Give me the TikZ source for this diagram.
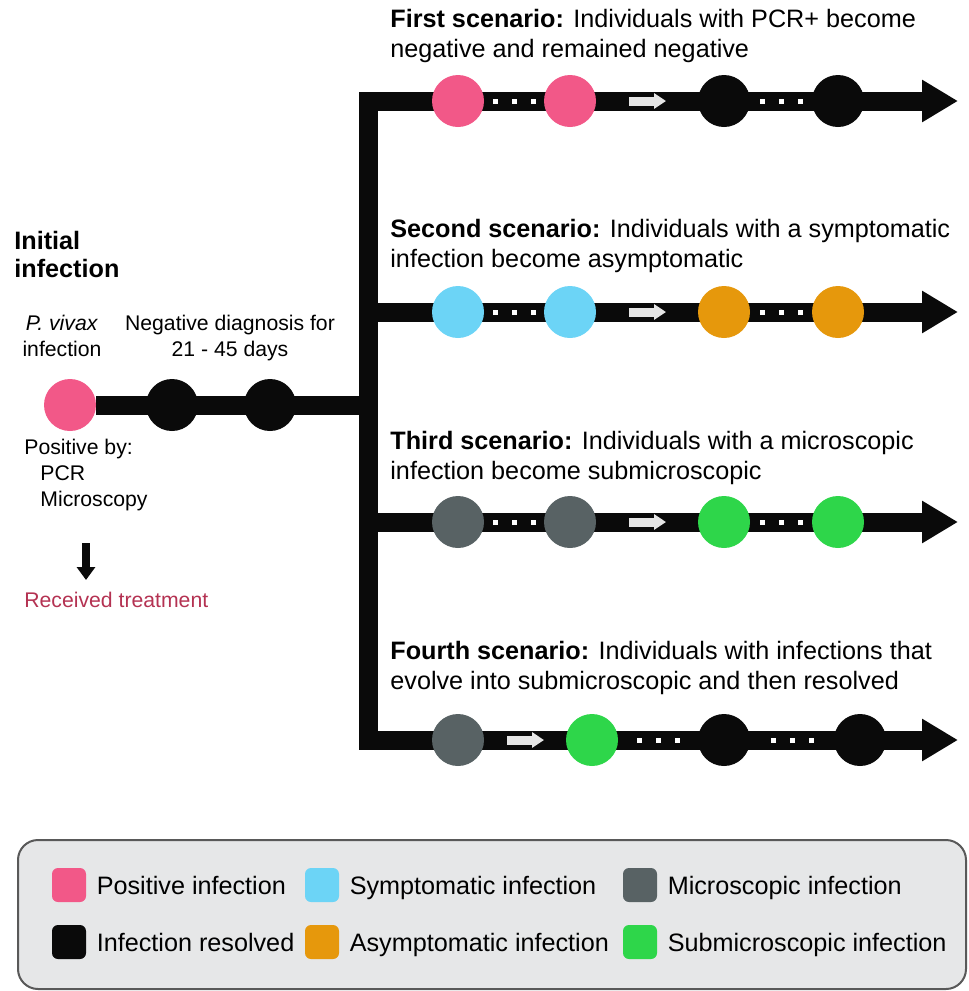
\documentclass[tikz,border=0pt]{standalone}
\usepackage{fontspec}
\setmainfont{Liberation Sans}
\usetikzlibrary{positioning,arrows.meta,calc,backgrounds}

\definecolor{pinkpos}{RGB}{242,88,136}
\definecolor{cyansym}{RGB}{108,212,246}
\definecolor{orangeasym}{RGB}{230,152,12}
\definecolor{graymic}{RGB}{88,98,100}
\definecolor{greensub}{RGB}{46,214,74}
\definecolor{inkblack}{RGB}{10,10,10}
\definecolor{treatred}{RGB}{180,50,82}
\definecolor{legfill}{RGB}{230,231,232}

\begin{document}
\begin{tikzpicture}[x=0.5pt, y=-0.5pt,
  every node/.style = {font=\fontsize{12.6}{15}\selectfont, inner sep=0pt},
  small/.style = {font=\fontsize{10.6}{12.7}\selectfont},
  stage/.style = {circle, minimum size=26pt, fill=#1},
  track/.style = {line width=9.5pt, draw=inkblack},
  tip/.style = {-{Triangle[length=18pt, width=20pt]}},
  shiftarrow/.style = {draw=white!90!black, line width=4.5pt, -{Triangle[length=6pt, width=7.5pt]}},
  legsq/.style = {rectangle, rounded corners=3pt, minimum size=17pt, fill=#1},
  legtext/.style = {text height=9.1pt, text depth=0pt}
]
\useasboundingbox (0,0) rectangle (969,991);

% initial infection (base = last line)
\node[anchor=base west, align=left, font=\fontsize{12.6}{14}\selectfont\bfseries] (init) at (14,277) {Initial\\infection};
\node[small, anchor=base, align=center] (vivax) at (62,356) {\textit{P. vivax}\\infection};
\node[small, anchor=base, align=center] (negdiag) at (230,356) {Negative diagnosis for\\21 - 45 days};

\node[stage=pinkpos] (p0) at (70,405) {};
\node[stage=inkblack] (n1) at (172,405) {};
\node[stage=inkblack] (n2) at (270,405) {};

\coordinate (top) at (368,101);
\coordinate (bot) at (368,740);
\coordinate (split) at (368,405);

\node[small, anchor=base west, align=left, font=\fontsize{10.6}{12.8}\selectfont] (posby) at (24,506)
  {Positive by:\\\hspace*{8pt}PCR\\\hspace*{8pt}Microscopy};
\coordinate (ta) at (86,543);
\coordinate (tb) at (86,580);
\draw[inkblack, line width=4pt, -{Triangle[length=6.5pt, width=9pt]}] (ta) -- (tb);
\node[small, anchor=base west, text=treatred] (treat) at (24,607) {Received treatment};

% scenario texts
\node[anchor=base west, align=left] (sc1) at (390,57)
  {\textbf{First scenario:} Individuals with PCR+ become\\negative and remained negative};
\node[anchor=base west, align=left] (sc2) at (390,267)
  {\textbf{Second scenario:} Individuals with a symptomatic\\infection become asymptomatic};
\node[anchor=base west, align=left] (sc3) at (390,479)
  {\textbf{Third scenario:} Individuals with a microscopic\\infection become submicroscopic};
\node[anchor=base west, align=left] (sc4) at (390,689)
  {\textbf{Fourth scenario:} Individuals with infections that\\evolve into submicroscopic and then resolved};

% scenarios 1-3
\foreach \y/\ca/\cb/\n in {101/pinkpos/inkblack/1, 312/cyansym/orangeasym/2, 522/graymic/greensub/3} {
  \coordinate (j\n) at (368,\y);
  \coordinate (e\n) at (958,\y);
  \node[stage=\ca] (a\n) at (458,\y) {};
  \node[stage=\ca] (b\n) at (570,\y) {};
  \node[stage=\cb] (c\n) at (724,\y) {};
  \node[stage=\cb] (d\n) at (838,\y) {};
}

% scenario 4
\coordinate (j4) at (368,740);
\coordinate (e4) at (958,740);
\node[stage=graymic] (a4) at (458,740) {};
\node[stage=greensub] (b4) at (592,740) {};
\node[stage=inkblack] (c4) at (724,740) {};
\node[stage=inkblack] (d4) at (860,740) {};

\begin{scope}[on background layer]
  \draw[track, line cap=rect] (top) -- (bot);
  \draw[track] (p0) -- (split);
  \foreach \n in {1,2,3,4}
    \draw[track, tip] (j\n) -- (e\n);
\end{scope}

% dots and shift arrows
\foreach \n in {1,2,3} {
  \foreach \d in {-19,0,19}
    \fill[white] ($(a\n)!.5!(b\n)+(\d,0)$) ++(-2.5,-2.5) rectangle ++(5,5);
  \foreach \d in {-19,0,19}
    \fill[white] ($(c\n)!.5!(d\n)+(\d,0)$) ++(-2.5,-2.5) rectangle ++(5,5);
  \draw[shiftarrow] ($(b\n)!.5!(c\n)+(-18,0)$) -- ++(37,0);
}
\draw[shiftarrow] ($(a4)!.5!(b4)+(-18,0)$) -- ++(37,0);
\foreach \d in {-19,0,19} {
  \fill[white] ($(b4)!.5!(c4)+(\d,0)$) ++(-2.5,-2.5) rectangle ++(5,5);
  \fill[white] ($(c4)!.5!(d4)+(\d,0)$) ++(-2.5,-2.5) rectangle ++(5,5);
}

% legend
\draw[fill=legfill, draw=black!65, line width=1pt, rounded corners=10pt] (18,840) rectangle (966,989);
\node[legsq=pinkpos] (l1) at (69,885) {};
\node[legtext, right=5pt of l1] (t1) {Positive infection};
\node[legsq=cyansym] (l2) at (322,885) {};
\node[legtext, right=5pt of l2] (t2) {Symptomatic infection};
\node[legsq=graymic] (l3) at (640,885) {};
\node[legtext, right=5pt of l3] (t3) {Microscopic infection};
\node[legsq=inkblack] (l4) at (69,942) {};
\node[legtext, right=5pt of l4] (t4) {Infection resolved};
\node[legsq=orangeasym] (l5) at (322,942) {};
\node[legtext, right=5pt of l5] (t5) {Asymptomatic infection};
\node[legsq=greensub] (l6) at (640,942) {};
\node[legtext, right=5pt of l6] (t6) {Submicroscopic infection};
\end{tikzpicture}
\end{document}
